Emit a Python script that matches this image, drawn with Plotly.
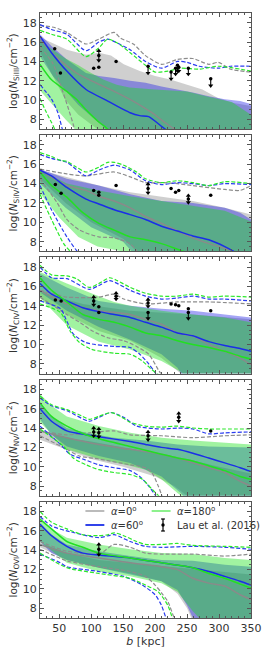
import plotly.graph_objects as go

# ---------------- data ----------------
B_TICKS = [50, 100, 150, 200, 250, 300, 350]
Y_TICKS = [8, 10, 12, 14, 16, 18]
ION_LABELS = ["SiIII", "SiIV", "CIV", "NV", "OVI"]
LEGEND_LABELS = ["α=0", "α=60", "α=180", "Lau et al. (2016)"]

# each series: (b [kpc], log N)
# --- SiIII ---
S3_G_MED = ([20, 43, 77, 107, 136, 171, 195, 215, 230, 240], [16.3, 14.6, 12.8, 11.8, 10.9, 9.7, 8.7, 7.7, 7.0, 6.5])
S3_B_MED = ([20, 38, 62, 92, 126, 161, 176, 190, 210, 222], [16.6, 14.9, 13.0, 11.1, 9.9, 8.7, 8.4, 8.3, 7.3, 6.7])
S3_L_MED = ([20, 38, 62, 77, 92, 111, 121, 131], [13.7, 12.1, 10.9, 10.1, 9.0, 7.8, 7.3, 6.7])
S3_G_UP = ([20, 43, 62, 92, 112, 136, 146, 166, 185, 210, 235, 259, 284, 299, 318, 350], [17.7, 17.5, 17.0, 15.8, 16.3, 17.0, 16.4, 15.8, 14.6, 13.7, 14.2, 14.3, 13.7, 13.9, 13.2, 12.9])
S3_B_UP = ([20, 38, 62, 92, 112, 126, 141, 161, 185, 210, 235, 250, 269, 299, 318, 350], [17.8, 17.3, 16.8, 15.1, 16.0, 16.3, 15.9, 15.2, 14.0, 13.3, 14.0, 13.9, 13.5, 13.3, 13.5, 13.5])
S3_L_UP = ([20, 38, 62, 92, 112, 126, 141, 161, 185, 200, 220, 240, 269, 299, 350], [17.2, 16.8, 16.3, 14.5, 15.4, 16.3, 15.9, 14.9, 13.6, 12.9, 13.0, 13.3, 13.2, 13.5, 13.0])
S3_G_LO = ([20, 40, 55, 65, 72, 76], [15.5, 13.8, 11.0, 9.0, 7.5, 6.5])
S3_B_LO = ([20, 38, 48, 55, 58], [11.6, 10.1, 8.7, 7.0, 6.5])
S3_L_LO = ([20, 28, 38, 43, 45], [10.2, 9.0, 7.7, 7.0, 6.5])
S3_G_BU = ([20, 62, 92, 112, 131, 151, 176, 200, 225, 250, 274, 299, 323, 350], [16.5, 15.2, 14.7, 14.9, 14.6, 13.7, 13.0, 12.5, 12.1, 11.6, 11.1, 10.2, 9.7, 9.4])
S3_G_BL = ([20, 40, 60, 80, 100, 120, 350], [15.0, 12.5, 10.0, 8.5, 7.5, 6.5, 6.5])
S3_B_BU = ([20, 38, 62, 92, 112, 136, 161, 185, 210, 235, 259, 284, 309, 333, 350], [16.8, 15.6, 14.2, 12.8, 12.5, 12.3, 12.0, 11.8, 11.4, 11.1, 10.8, 10.4, 10.1, 9.9, 9.6])
S3_B_BL = ([20, 40, 60, 80, 100, 120, 130, 350], [14.5, 12.5, 11.0, 9.5, 8.3, 7.2, 6.5, 6.5])
S3_L_BU = ([20, 40, 60, 80, 100, 120, 140, 160, 200, 250, 280, 300, 320, 350], [16.2, 15.2, 14.3, 13.6, 12.8, 12.1, 11.6, 11.3, 11.1, 10.9, 10.4, 10.1, 9.8, 8.5])
S3_L_BL = ([20, 40, 60, 75, 80, 350], [11.0, 9.5, 8.0, 7.0, 6.5, 6.5])

# --- SiIV ---
S4_G_MED = ([20, 62, 92, 112, 136, 161, 185, 210, 235, 259, 284, 309, 330], [15.4, 13.8, 13.3, 12.7, 12.2, 11.5, 10.6, 9.9, 9.1, 8.4, 7.8, 7.3, 6.8])
S4_B_MED = ([20, 38, 62, 92, 112, 136, 161, 185, 210, 235, 259, 284, 309, 323, 330], [15.4, 14.8, 13.6, 12.4, 11.9, 11.3, 10.8, 10.3, 9.6, 9.1, 8.6, 8.2, 7.5, 7.0, 6.7])
S4_L_MED = ([20, 38, 62, 87, 112, 136, 161, 185, 210, 240, 260], [15.2, 13.8, 12.6, 11.0, 9.9, 9.2, 8.5, 8.2, 7.8, 7.1, 6.7])
S4_G_UP = ([20, 62, 92, 136, 161, 185, 210, 235, 259, 309, 333, 350], [15.5, 15.0, 14.8, 15.2, 14.7, 14.1, 14.1, 14.0, 13.8, 13.4, 13.3, 13.8])
S4_B_UP = ([20, 38, 62, 92, 112, 136, 161, 185, 210, 235, 259, 284, 309, 350], [17.0, 16.6, 16.2, 14.8, 15.4, 15.9, 15.4, 14.3, 13.9, 14.1, 14.0, 13.8, 14.0, 13.9])
S4_L_UP = ([20, 38, 52, 62, 77, 92, 112, 126, 136, 151, 171, 185, 210, 235, 259, 284, 309, 350], [17.2, 16.8, 16.4, 16.3, 15.7, 15.2, 15.7, 16.2, 16.2, 15.9, 15.2, 14.5, 14.1, 14.3, 14.1, 13.8, 14.2, 14.0])
S4_G_LO = ([20, 47, 62, 82, 112, 136, 161, 171, 180], [14.5, 12.0, 10.3, 9.2, 8.5, 8.4, 7.8, 7.1, 6.5])
S4_B_LO = ([20, 38, 62, 77, 85], [13.8, 11.3, 8.5, 7.1, 6.5])
S4_L_LO = ([20, 38, 57, 67, 72], [12.9, 10.3, 7.8, 7.0, 6.5])
S4_G_BU = ([20, 62, 112, 161, 210, 235, 259, 309, 350], [15.4, 14.7, 13.8, 13.1, 12.6, 12.4, 12.2, 11.5, 10.8])
S4_G_BL = ([20, 60, 100, 150, 180, 350], [14.5, 12.0, 10.0, 8.3, 6.5, 6.5])
S4_B_BU = ([20, 62, 112, 161, 210, 259, 309, 333, 350], [15.5, 14.5, 13.8, 12.9, 12.2, 12.0, 11.5, 11.0, 10.3])
S4_B_BL = ([20, 60, 100, 150, 170, 350], [14.0, 11.5, 9.5, 8.0, 6.5, 6.5])
S4_L_BU = ([20, 62, 112, 161, 210, 259, 309, 350], [15.4, 14.0, 13.3, 12.7, 12.2, 11.7, 11.2, 10.1])
S4_L_BL = ([20, 50, 80, 110, 150, 170, 350], [13.0, 10.5, 8.5, 7.5, 7.0, 6.5, 6.5])

# --- CIV ---
C4_G_MED = ([20, 62, 112, 161, 185, 210, 235, 259, 284, 309, 333, 350], [15.6, 14.2, 13.5, 13.1, 12.6, 12.1, 11.2, 10.9, 10.0, 9.3, 8.6, 7.9])
C4_B_MED = ([20, 38, 62, 87, 112, 136, 161, 185, 210, 235, 259, 284, 309, 333, 350], [16.3, 15.2, 14.5, 13.8, 13.4, 13.1, 12.8, 12.3, 11.8, 11.2, 10.9, 10.3, 9.9, 9.6, 9.3])
C4_L_MED = ([20, 38, 62, 87, 112, 136, 161, 185, 210, 235, 259, 284, 309, 333, 350], [16.9, 15.6, 14.4, 13.1, 12.6, 12.3, 11.8, 11.2, 10.9, 10.4, 10.0, 9.7, 9.3, 8.8, 8.5])
C4_G_UP = ([20, 43, 62, 112, 136, 151, 185, 235, 284, 350], [15.6, 15.2, 14.9, 14.9, 15.2, 14.7, 14.2, 14.4, 14.4, 14.2])
C4_B_UP = ([20, 38, 62, 97, 112, 129, 161, 185, 210, 235, 259, 284, 309, 350], [18.0, 16.9, 16.8, 15.7, 16.1, 16.6, 15.6, 15.0, 14.7, 14.8, 15.0, 14.7, 14.7, 14.5])
C4_L_UP = ([20, 38, 62, 77, 97, 112, 129, 141, 161, 185, 210, 235, 259, 284, 309, 350], [18.2, 17.2, 17.1, 16.8, 15.9, 16.3, 16.9, 16.6, 15.9, 15.3, 15.0, 15.0, 15.2, 14.9, 15.0, 14.9])
C4_G_LO = ([20, 62, 82, 102, 126, 151, 171, 190, 205, 210, 215], [14.9, 13.1, 12.3, 11.4, 10.7, 10.4, 9.8, 9.0, 7.4, 6.9, 6.5])
C4_B_LO = ([20, 52, 62, 72, 92, 136, 161, 176, 190, 200, 205], [14.5, 13.7, 12.4, 11.1, 10.2, 9.8, 9.7, 9.0, 8.0, 7.1, 6.5])
C4_L_LO = ([20, 52, 67, 82, 101, 136, 161, 180, 195, 205, 210], [14.2, 13.3, 11.4, 10.2, 9.5, 9.1, 9.0, 8.3, 7.4, 6.9, 6.5])
C4_G_BU = ([20, 87, 161, 210, 259, 350], [15.4, 14.2, 13.5, 13.3, 13.1, 12.6])
C4_G_BL = ([20, 62, 112, 161, 210, 240, 250, 350], [14.8, 13.1, 11.4, 10.4, 8.6, 7.0, 6.5, 6.5])
C4_B_BU = ([20, 62, 112, 161, 210, 259, 309, 350], [17.3, 15.9, 14.5, 14.0, 13.7, 13.5, 13.1, 12.8])
C4_B_BL = ([20, 62, 112, 161, 210, 235, 245, 350], [15.4, 13.5, 11.8, 10.5, 9.0, 7.6, 6.5, 6.5])
C4_L_BU = ([20, 62, 112, 136, 161, 210, 259, 309, 350], [17.5, 16.3, 15.0, 14.4, 14.0, 13.5, 13.1, 12.8, 12.3])
C4_L_BL = ([20, 62, 112, 161, 210, 240, 250, 350], [14.8, 12.0, 10.3, 9.5, 8.3, 7.2, 6.5, 6.5])

# --- NV ---
N5_G_MED = ([20, 62, 112, 161, 210, 235, 259, 284, 309, 333, 350], [13.7, 13.0, 12.3, 11.8, 11.3, 10.9, 10.4, 9.9, 9.4, 8.5, 8.0])
N5_B_MED = ([20, 38, 62, 92, 112, 161, 185, 210, 235, 259, 284, 309, 333, 350], [16.0, 14.7, 13.7, 13.3, 13.1, 12.6, 12.3, 12.0, 11.8, 11.4, 10.9, 10.4, 9.9, 9.5])
N5_L_MED = ([20, 38, 62, 92, 112, 161, 210, 235, 259, 284, 309, 333, 350], [16.6, 15.2, 14.2, 13.3, 12.9, 12.1, 11.3, 10.9, 10.6, 10.1, 9.6, 9.0, 8.7])
N5_G_UP = ([20, 62, 97, 136, 161, 210, 259, 309, 350], [13.7, 13.3, 13.5, 13.7, 13.3, 13.2, 13.0, 13.2, 13.3])
N5_B_UP = ([20, 38, 62, 97, 112, 131, 151, 171, 210, 235, 259, 284, 309, 350], [17.1, 16.3, 15.8, 14.7, 15.1, 15.6, 15.1, 14.2, 13.9, 14.0, 13.9, 13.4, 13.5, 13.6])
N5_L_UP = ([20, 38, 62, 87, 97, 112, 131, 146, 161, 185, 210, 235, 259, 284, 309, 350], [17.3, 16.4, 15.9, 15.2, 14.9, 15.2, 15.6, 15.2, 14.6, 14.2, 14.1, 14.2, 14.0, 13.9, 13.9, 13.9])
N5_G_LO = ([20, 62, 82, 112, 161, 185, 195, 205, 212, 215], [13.2, 11.8, 11.1, 10.8, 10.2, 9.9, 9.4, 8.0, 6.8, 6.5])
N5_B_LO = ([20, 52, 67, 87, 112, 136, 161, 176, 190, 203, 206], [14.2, 12.3, 11.3, 10.8, 10.2, 9.9, 9.6, 9.0, 8.0, 6.8, 6.5])
N5_L_LO = ([20, 57, 72, 92, 112, 136, 161, 180, 195, 208, 211], [13.9, 12.1, 10.9, 10.2, 9.7, 9.4, 9.2, 8.7, 7.7, 6.8, 6.5])
N5_G_BU = ([20, 60, 100, 150, 200, 250, 300, 350], [13.8, 13.0, 12.6, 12.0, 11.4, 10.8, 10.0, 9.3])
N5_G_BL = ([20, 60, 100, 150, 200, 230, 260, 350], [12.8, 11.8, 10.8, 10.0, 9.0, 8.0, 6.5, 6.5])
N5_B_BU = ([20, 38, 62, 92, 136, 185, 235, 284, 350], [16.6, 15.2, 14.0, 13.5, 13.0, 12.7, 12.3, 12.1, 12.0])
N5_B_BL = ([20, 38, 62, 112, 161, 210, 240, 250, 350], [14.9, 13.3, 12.1, 11.1, 10.4, 9.0, 7.3, 6.5, 6.5])
N5_L_BU = ([20, 38, 62, 112, 161, 210, 259, 309, 350], [17.5, 16.3, 15.2, 14.2, 13.5, 13.0, 12.7, 12.5, 12.3])
N5_L_BL = ([20, 62, 112, 161, 185, 210, 235, 250, 350], [14.6, 11.8, 10.8, 10.1, 9.7, 8.7, 7.3, 6.5, 6.5])

# --- OVI ---
O6_G_MED = ([20, 62, 112, 161, 210, 235, 259, 284, 309, 333, 350], [14.6, 13.7, 13.2, 12.7, 12.3, 12.0, 11.1, 10.6, 10.3, 9.4, 8.9])
O6_B_MED = ([20, 38, 62, 87, 112, 161, 210, 259, 284, 309, 333, 350], [16.7, 15.5, 14.4, 13.7, 13.5, 13.2, 12.7, 12.2, 11.8, 11.3, 10.8, 10.4])
O6_L_MED = ([20, 38, 62, 87, 112, 161, 210, 259, 284, 309, 333, 350], [17.2, 16.2, 14.9, 14.3, 13.7, 13.2, 12.7, 12.2, 11.6, 11.1, 10.5, 10.1])
O6_G_UP = ([20, 62, 112, 136, 161, 185, 210, 259, 309, 350], [14.9, 13.9, 13.6, 14.6, 14.3, 13.7, 13.6, 13.6, 13.4, 13.6])
O6_B_UP = ([20, 38, 62, 112, 136, 161, 185, 210, 259, 309, 350], [17.5, 16.5, 16.0, 15.3, 15.6, 14.9, 14.4, 14.3, 14.4, 14.3, 14.1])
O6_L_UP = ([20, 38, 62, 87, 112, 126, 136, 151, 171, 185, 210, 235, 259, 309, 350], [18.0, 16.9, 16.2, 15.6, 15.5, 15.6, 15.8, 15.5, 14.9, 14.6, 14.6, 14.7, 14.5, 14.4, 14.3])
O6_G_LO = ([20, 62, 112, 161, 185, 200, 210, 220, 230, 235], [14.1, 12.9, 12.3, 11.8, 11.3, 10.4, 9.6, 8.7, 7.0, 6.5])
O6_B_LO = ([20, 52, 62, 112, 151, 180, 200, 210, 217, 220], [13.6, 12.7, 12.3, 11.8, 11.3, 10.4, 9.4, 8.3, 7.0, 6.5])
O6_L_LO = ([20, 62, 112, 161, 185, 205, 220, 227, 230], [13.7, 12.2, 11.6, 11.1, 10.4, 9.7, 8.3, 7.0, 6.5])
O6_G_BU = ([20, 62, 112, 161, 210, 259, 309, 350], [14.8, 13.7, 13.0, 12.7, 12.4, 12.1, 11.8, 11.5])
O6_G_BL = ([20, 62, 112, 161, 210, 235, 250, 260, 350], [14.3, 13.0, 12.2, 11.6, 10.8, 9.5, 8.0, 6.5, 6.5])
O6_B_BU = ([20, 38, 62, 112, 161, 210, 259, 309, 350], [16.7, 15.6, 14.6, 13.9, 13.4, 13.0, 12.9, 12.5, 12.3])
O6_B_BL = ([20, 38, 62, 112, 161, 210, 235, 250, 259, 270, 350], [14.9, 13.7, 13.0, 12.2, 11.5, 10.8, 9.9, 8.3, 7.0, 6.5, 6.5])
O6_L_BU = ([20, 38, 62, 112, 161, 210, 259, 309, 350], [17.4, 16.2, 15.3, 14.6, 14.1, 13.7, 13.6, 13.2, 13.0])
O6_L_BL = ([20, 62, 112, 161, 210, 235, 259, 269, 280, 350], [14.9, 12.7, 11.8, 11.3, 10.6, 9.7, 7.7, 7.0, 6.5, 6.5])

# observations (Lau et al. 2016): b, logN, downward stem, upward stem
S3_OBS_B = [43, 52, 104, 112, 112, 139, 189, 225, 232, 235, 237, 252, 287]
S3_OBS_V = [15.3, 12.8, 13.3, 13.4, 14.6, 14.0, 13.5, 12.9, 13.3, 13.6, 13.4, 13.3, 12.2]
S3_OBS_LO = [0, 0, 0, 0, 0.5, 0, 0.7, 0.7, 0.6, 0.6, 0.4, 0.6, 0.7]
S3_OBS_HI = [0, 0, 0, 0, 0.5, 0, 0, 0, 0, 0, 0, 0, 0]
S4_OBS_B = [44, 53, 104, 112, 112, 139, 189, 225, 232, 237, 252, 287]
S4_OBS_V = [13.9, 13.0, 13.3, 13.1, 12.8, 13.8, 13.5, 13.5, 13.1, 13.3, 12.4, 12.8]
S4_OBS_LO = [0, 0, 0, 0, 0, 0, 0.45, 0, 0, 0, 0.35, 0]
S4_OBS_HI = [0, 0, 0, 0, 0, 0, 0.45, 0, 0, 0, 0.35, 0]
C4_OBS_B = [44, 53, 104, 112, 112, 139, 189, 189, 225, 232, 237, 252, 252, 287]
C4_OBS_V = [14.6, 14.5, 14.5, 13.9, 13.3, 15.0, 14.3, 13.3, 14.2, 14.1, 14.0, 13.7, 13.3, 13.5]
C4_OBS_LO = [0, 0, 0.4, 0, 0, 0.3, 0.35, 0.6, 0, 0, 0, 0, 0.6, 0]
C4_OBS_HI = [0, 0, 0.4, 0, 0, 0.3, 0.35, 0, 0, 0, 0, 0, 0, 0]
N5_OBS_B = [104, 112, 189, 237, 287]
N5_OBS_V = [13.6, 13.5, 13.2, 15.1, 13.7]
N5_OBS_LO = [0.4, 0.4, 0.4, 0.4, 0]
N5_OBS_HI = [0.4, 0.4, 0.4, 0.4, 0]
O6_OBS_B = [112]
O6_OBS_V = [14.1]
O6_OBS_LO = [0.55]
O6_OBS_HI = [0.5]

PANELS = [
    dict(ion="SiIII", G=(S3_G_BU, S3_G_BL, S3_G_MED, S3_G_UP, S3_G_LO), B=(S3_B_BU, S3_B_BL, S3_B_MED, S3_B_UP, S3_B_LO),
         L=(S3_L_BU, S3_L_BL, S3_L_MED, S3_L_UP, S3_L_LO), obs=(S3_OBS_B, S3_OBS_V, S3_OBS_LO, S3_OBS_HI)),
    dict(ion="SiIV", G=(S4_G_BU, S4_G_BL, S4_G_MED, S4_G_UP, S4_G_LO), B=(S4_B_BU, S4_B_BL, S4_B_MED, S4_B_UP, S4_B_LO),
         L=(S4_L_BU, S4_L_BL, S4_L_MED, S4_L_UP, S4_L_LO), obs=(S4_OBS_B, S4_OBS_V, S4_OBS_LO, S4_OBS_HI)),
    dict(ion="CIV", G=(C4_G_BU, C4_G_BL, C4_G_MED, C4_G_UP, C4_G_LO), B=(C4_B_BU, C4_B_BL, C4_B_MED, C4_B_UP, C4_B_LO),
         L=(C4_L_BU, C4_L_BL, C4_L_MED, C4_L_UP, C4_L_LO), obs=(C4_OBS_B, C4_OBS_V, C4_OBS_LO, C4_OBS_HI)),
    dict(ion="NV", G=(N5_G_BU, N5_G_BL, N5_G_MED, N5_G_UP, N5_G_LO), B=(N5_B_BU, N5_B_BL, N5_B_MED, N5_B_UP, N5_B_LO),
         L=(N5_L_BU, N5_L_BL, N5_L_MED, N5_L_UP, N5_L_LO), obs=(N5_OBS_B, N5_OBS_V, N5_OBS_LO, N5_OBS_HI)),
    dict(ion="OVI", G=(O6_G_BU, O6_G_BL, O6_G_MED, O6_G_UP, O6_G_LO), B=(O6_B_BU, O6_B_BL, O6_B_MED, O6_B_UP, O6_B_LO),
         L=(O6_L_BU, O6_L_BL, O6_L_MED, O6_L_UP, O6_L_LO), obs=(O6_OBS_B, O6_OBS_V, O6_OBS_LO, O6_OBS_HI)),
]

# ---------------- style / geometry (window pixel coords) ----------------
WIN_W, WIN_H = 274, 658
PL, PR, PT, PB = 38, 261, 13, 618
GAP = 6
FONT = "DejaVu Sans"
TXT = "#333333"
AXC = "#555555"
STY = {
    "G": dict(fill="rgba(128,128,128,0.38)", line="#8a8a8a", dash="#8c8c8c", leg="#b4b4b4"),
    "B": dict(fill="rgba(30,30,230,0.40)", line="#1a2ee8", dash="#2a3cf0", leg="#1a2ee8"),
    "L": dict(fill="rgba(20,225,20,0.40)", line="#22e022", dash="#2ae82a", leg="#80f080"),
}

plot_h = PB - PT
pw = PR - PL
ph = (plot_h - 4 * GAP) / 5.0

fig = go.Figure()

for i, p in enumerate(PANELS):
    xa = "x" if i == 0 else f"x{i+1}"
    ya = "y" if i == 0 else f"y{i+1}"
    for key in ("G", "B", "L"):
        bu, bl = p[key][0], p[key][1]
        fig.add_trace(go.Scatter(
            x=list(bu[0]) + list(bl[0])[::-1], y=list(bu[1]) + list(bl[1])[::-1],
            fill="toself", fillcolor=STY[key]["fill"], mode="lines", line=dict(width=0),
            hoverinfo="skip", showlegend=False, xaxis=xa, yaxis=ya))
    for key in ("G", "B", "L"):
        _, _, med, up, lo = p[key]
        for s in (up, lo):
            fig.add_trace(go.Scatter(
                x=s[0], y=s[1], mode="lines",
                line=dict(color=STY[key]["dash"], width=1.2, dash="4px,2px", shape="spline", smoothing=0.7),
                hoverinfo="skip", showlegend=False, xaxis=xa, yaxis=ya))
        fig.add_trace(go.Scatter(
            x=med[0], y=med[1], mode="lines",
            line=dict(color=STY[key]["line"], width=1.5, shape="spline", smoothing=0.6),
            hoverinfo="skip", showlegend=False, xaxis=xa, yaxis=ya))
    ob, ov, olo, ohi = p["obs"]
    fig.add_trace(go.Scatter(
        x=ob, y=ov, mode="markers", marker=dict(color="black", size=3.5),
        error_y=dict(type="data", symmetric=False, array=ohi, arrayminus=olo,
                     color="black", thickness=1.1, width=0),
        hoverinfo="skip", showlegend=False, xaxis=xa, yaxis=ya))
    dn_b = [b for b, l in zip(ob, olo) if l > 0]
    dn_v = [v - l for v, l in zip(ov, olo) if l > 0]
    up_b = [b for b, h in zip(ob, ohi) if h > 0]
    up_v = [v + h for v, h in zip(ov, ohi) if h > 0]
    if dn_b:
        fig.add_trace(go.Scatter(x=dn_b, y=dn_v, mode="markers",
                                 marker=dict(symbol="triangle-down", color="black", size=4.5),
                                 hoverinfo="skip", showlegend=False, xaxis=xa, yaxis=ya))
    if up_b:
        fig.add_trace(go.Scatter(x=up_b, y=up_v, mode="markers",
                                 marker=dict(symbol="triangle-up", color="black", size=4.5),
                                 hoverinfo="skip", showlegend=False, xaxis=xa, yaxis=ya))

    top = i * (ph + GAP)
    bot = top + ph
    dom = [1 - bot / plot_h, 1 - top / plot_h]
    xk = "xaxis" if i == 0 else f"xaxis{i+1}"
    yk = "yaxis" if i == 0 else f"yaxis{i+1}"
    xdict = dict(domain=[0, 1], range=[20, 350], anchor=ya, tickvals=B_TICKS,
                 showticklabels=(i == 4), ticks="inside", ticklen=4, tickcolor=AXC,
                 showline=True, linecolor=AXC, linewidth=1, mirror="ticks", showgrid=False, zeroline=False,
                 minor=dict(dtick=10, tick0=0, ticks="inside", ticklen=2, tickcolor=AXC),
                 tickfont=dict(family=FONT, size=11, color=TXT))
    if i == 4:
        xdict["title"] = dict(text="<i>b</i> [kpc]", font=dict(family=FONT, size=11, color=TXT), standoff=3)
    if i > 0:
        xdict["matches"] = "x"
    fig.update_layout(**{
        xk: xdict,
        yk: dict(domain=dom, range=[7, 19], anchor=xa, tickvals=Y_TICKS,
                 ticks="inside", ticklen=4, tickcolor=AXC,
                 showline=True, linecolor=AXC, linewidth=1, mirror="ticks", showgrid=False, zeroline=False,
                 minor=dict(dtick=0.5, tick0=0, ticks="inside", ticklen=2, tickcolor=AXC),
                 tickfont=dict(family=FONT, size=11, color=TXT),
                 title=dict(text=f"log(<i>N</i><sub>{p['ion']}</sub>/cm<sup>−2</sup>)",
                            font=dict(family=FONT, size=10.5, color=TXT), standoff=3)),
    })


# ---------------- legend (drawn in paper space) ----------------
def px(xp):
    return (xp - PL) / pw


def py(yp):
    return 1 - (yp - PT) / plot_h


shapes = []
annots = []
leg_rows = [
    (86, 106, 511, STY["G"]["leg"], "<i>α</i>=0<sup>o</sup>", 111),
    (86, 106, 525, STY["B"]["leg"], "<i>α</i>=60<sup>o</sup>", 111),
    (156, 176, 511, STY["L"]["leg"], "<i>α</i>=180<sup>o</sup>", 181),
]
for x0, x1, yy, col, txt, tx in leg_rows:
    shapes.append(dict(type="line", xref="paper", yref="paper", x0=px(x0), x1=px(x1), y0=py(yy), y1=py(yy),
                       line=dict(color=col, width=1.8)))
    annots.append(dict(xref="paper", yref="paper", x=px(tx), y=py(yy), text=txt, showarrow=False,
                       xanchor="left", yanchor="middle", font=dict(family=FONT, size=10, color=TXT)))
ex = 168
shapes.append(dict(type="line", xref="paper", yref="paper", x0=px(ex), x1=px(ex), y0=py(519), y1=py(531),
                   line=dict(color="black", width=1.2)))
for yy in (519, 531):
    shapes.append(dict(type="line", xref="paper", yref="paper", x0=px(ex - 2), x1=px(ex + 2), y0=py(yy), y1=py(yy),
                       line=dict(color="black", width=1.2)))
shapes.append(dict(type="circle", xref="paper", yref="paper", x0=px(ex - 1.8), x1=px(ex + 1.8),
                   y0=py(526.8), y1=py(523.2), fillcolor="black", line=dict(color="black", width=0)))
annots.append(dict(xref="paper", yref="paper", x=px(181), y=py(525), text=LEGEND_LABELS[3], showarrow=False,
                   xanchor="left", yanchor="middle", font=dict(family=FONT, size=10, color=TXT)))

fig.update_layout(
    width=WIN_W, height=WIN_H,
    margin=dict(l=PL, r=WIN_W - PR, t=PT, b=WIN_H - PB, pad=0),
    paper_bgcolor="white", plot_bgcolor="white",
    font=dict(family=FONT, size=11, color=TXT),
    showlegend=False, shapes=shapes, annotations=annots,
    hovermode=False,
)

# place the figure at the page origin (no default body margin), no mode bar
fig.write_html("out.html", config={"displayModeBar": False, "staticPlot": True},
               post_script="document.body.style.margin='0px';")
